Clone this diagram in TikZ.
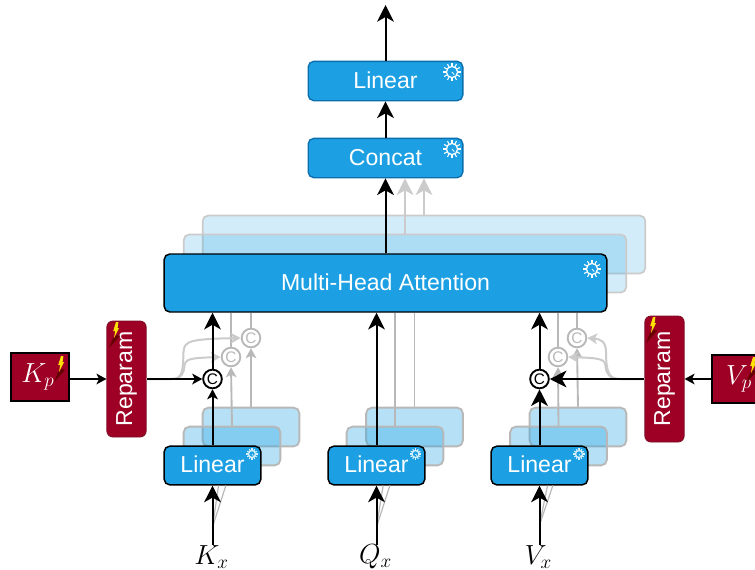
\documentclass[tikz,border=0pt]{standalone}
\usepackage{fontspec}
\usepackage{graphicx}
\setmainfont{Liberation Sans}
\usetikzlibrary{arrows.meta,calc}
\definecolor{bl}{HTML}{1CA0E3}
\definecolor{bledge}{HTML}{0B6FAE}
\definecolor{rd}{HTML}{9D0024}
\definecolor{rdedge}{HTML}{7A1028}
\definecolor{gA}{HTML}{CBCBCB}
\definecolor{gB}{HTML}{B8B8B8}
\definecolor{frostc}{HTML}{D8F0FC}
\tikzset{
  bx/.style={rounded corners=4.2pt,fill=bl,text=white,inner sep=0pt,text height=12.5pt,text depth=1.5pt,font=\fontsize{17.3}{20}\selectfont},
  topbox/.style={bx,draw=bledge,line width=1pt,minimum width=116pt,minimum height=29.5pt},
  lin/.style={bx,draw=black,line width=1.1pt,minimum width=72.5pt,minimum height=29pt},
  mhabox/.style={bx,draw=black,line width=1.1pt,minimum width=332pt,minimum height=43.5pt},
  backbig/.style={rounded corners=4.2pt,draw=gA,line width=1.3pt,fill=bl,fill opacity=.2,minimum width=332pt,minimum height=43.5pt,inner sep=0pt},
  backsm/.style={rounded corners=4.2pt,draw=gB,line width=1.4pt,fill=bl,fill opacity=.32,minimum width=72.5pt,minimum height=29pt,inner sep=0pt},
  repbox/.style={rounded corners=4.5pt,draw=rdedge,line width=.6pt,fill=rd,text=white,inner sep=0pt,minimum width=29.5pt,font=\fontsize{17.3}{20}\selectfont},
  param/.style={draw=black,line width=1.3pt,fill=rd,text=white,inner sep=0pt,minimum width=43.5pt,minimum height=36.5pt,font=\fontsize{20}{24}\selectfont},
  inp/.style={inner sep=0pt,font=\fontsize{20}{24}\selectfont},
  cat/.style={circle,draw=black,line width=1.4pt,fill=white,inner sep=0pt,minimum size=14pt,font=\fontsize{11.5}{12}\selectfont},
  catg/.style={circle,draw=gB,text=gB,line width=1.4pt,fill=white,inner sep=0pt,minimum size=14pt,font=\fontsize{11.5}{12}\selectfont},
  blk/.style={draw=black,line width=1.5pt},
  gry/.style={draw=gB,line width=1.4pt},
  gryt/.style={draw=gA,line width=1.5pt},
  fan/.style={draw=gB,line width=.9pt},
  bigtip/.style={-{Stealth[length=12.5pt,width=12.5pt,inset=3.5pt]}},
  smalltip/.style={-{Stealth[length=7.5pt,width=8pt,inset=2pt]}},
  frost/.pic={
    \draw[line width=.9pt,pic actions] (0,0) circle (5.6);
    \foreach \a in {0,30,...,330}{\draw[line width=.8pt,pic actions] (\a:5.6) -- (\a:9);}
    \draw[line width=.6pt,pic actions] (0,0) -- (50:3.4);
  },
  bolt/.pic={
    \fill[red!40!black] (2,3) -- (5,4) -- (-6,16) -- (-2,6) -- cycle;
    \fill[yellow!85!orange] (1,-10) -- (3.4,-10) -- (2.6,-4) -- (4,-4) -- (-1,6) -- (.2,-1) -- (-1.8,-1) -- cycle;
  },
}
\begin{document}
\begin{tikzpicture}[x=.75pt,y=-.75pt]
\useasboundingbox (0,0) rectangle (755,569);
% back boxes
\node[backbig] (mb2) at (424,244.5) {};
\node[backbig] (mb1) at (405,263.5) {};
\node[backsm] (kb2) at (251,427) {};
\node[backsm] (kb1) at (232,446) {};
\node[backsm] (qb2) at (414.5,427) {};
\node[backsm] (qb1) at (395,446) {};
\node[backsm] (vb2) at (578,427) {};
\node[backsm] (vb1) at (558.5,446) {};
% main boxes
\node[topbox] (lintop) at (385.5,81) {Linear};
\node[topbox] (concat) at (385.5,158) {Concat};
\node[mhabox] (mha) at (385.5,283) {Multi-Head Attention};
\coordinate (out) at (385.5,5);
% gray upper connectors
\draw[gryt,bigtip] (mb1.north) -- (mb1.north |- concat.south);
\draw[gryt,bigtip] (mb2.north) -- (mb2.north |- concat.south);
% gray catenations
\node[catg] (ck1) at (231,357) {C};
\node[catg] (ck2) at (251,338) {C};
\node[catg] (cv1) at (558,357) {C};
\node[catg] (cv2) at (577,338) {C};
% reparam & params
\node[repbox,minimum height=87pt] (rk) at (126.5,379) {\rotatebox{90}{Reparam}};
\node[repbox,minimum height=94.5pt] (rv) at (664.5,379) {\rotatebox{90}{Reparam}};
\node[param] (kp) at (40,377) {\hspace{-3pt}$K_p$};
\node[param] (vp) at (741,379) {\hspace{-3pt}$V_p$};
% gray connectors lower
\draw[gry,smalltip] (kb1.north) -- (ck1.south);
\draw[gry,smalltip] (kb2.north) -- (ck2.south);
\draw[gry,smalltip] (vb1.north) -- (cv1.south);
\draw[gry,smalltip] (vb2.north) -- (cv2.south);
\draw[gry] (ck1.north) -- (ck1.north |- mha.south);
\draw[gry] (ck2.north) -- (ck2.north |- mha.south);
\draw[gry] (cv1.north) -- (cv1.north |- mha.south);
\draw[gry] (cv2.north) -- (cv2.north |- mha.south);
\draw[gry] (qb1.north) -- (qb1.north |- mha.south);
\draw[gry] (qb2.north) -- (qb2.north |- mha.south);
\draw[gryt,smalltip] (rk.east) -- (172,379) .. controls (182,379) and (184,372) .. (184.5,366) .. controls (185,359) and (190,358) .. (ck1.west);
\draw[gryt,smalltip] (rk.east) -- (172,379) .. controls (182,379) and (183,372) .. (183.5,352) .. controls (184,341) and (190,339) .. (ck2.west);
\draw[gryt,smalltip] (rv.west) -- (620,379) .. controls (610,379) and (606,374) .. (605.5,366) .. controls (605,359) and (600,358) .. (cv1.east);
\draw[gryt,smalltip] (rv.west) -- (620,379) .. controls (610,379) and (606,374) .. (606,352) .. controls (606,341) and (600,339) .. (cv2.east);
% front linears
\node[lin] (link) at (212.5,465.5) {Linear};
\node[lin] (linq) at (376.5,465.5) {Linear};
\node[lin] (linv) at (539.5,465.5) {Linear};
\node[cat] (ck) at (212.5,379) {C};
\node[cat] (cv) at (539.5,379) {C};
% inputs
\node[inp] (kx) at (211.5,557) {$K_x$};
\node[inp] (qx) at (375.5,557) {$Q_x$};
\node[inp] (vx) at (538.5,557) {$V_x$};
\coordinate (fk) at (212.5,527);
\coordinate (fq) at (376.5,527);
\coordinate (fv) at (539.5,525);
\draw[fan] (fk) -- ([xshift=4.5pt]link.south);
\draw[fan] (fk) -- ([xshift=10pt]link.south);
\draw[fan] (fq) -- ([xshift=5pt]linq.south);
\draw[fan] (fq) -- ([xshift=10pt]linq.south);
\draw[fan] (fv) -- ([xshift=6pt]linv.south);
\draw[fan] (fv) -- ([xshift=10pt]linv.south);
% black connectors
\draw[blk,bigtip] (link.south |- kx.north) -- (link.south);
\draw[blk,bigtip] (linq.south |- qx.north) -- (linq.south);
\draw[blk,bigtip] (linv.south |- vx.north) -- (linv.south);
\draw[blk,smalltip] (link.north) -- (ck.south);
\draw[blk,bigtip] (linv.north) -- (cv.south);
\draw[blk,bigtip] (ck.north) -- (ck.north |- mha.south);
\draw[blk,bigtip] (cv.north) -- (cv.north |- mha.south);
\draw[blk,bigtip] (linq.north) -- (linq.north |- mha.south);
\draw[blk,bigtip] (mha.north) -- (concat.south);
\draw[blk,bigtip] (concat.north) -- (lintop.south);
\draw[blk,bigtip] (lintop.north) -- (out);
\draw[blk,smalltip] (kp.east |- rk.east) -- (rk.west);
\draw[blk,smalltip] (rk.east) -- (ck.west);
\draw[blk,smalltip] (vp.west) -- (rv.east);
\draw[blk,bigtip] (rv.west) -- (cv.east);
% icons
\pic[draw=white] at (452,72) {frost};
\pic[draw=white] at (452,149) {frost};
\pic[draw=white] at (592,269) {frost};
\pic[draw=frostc,scale=.62] at (252,454) {frost};
\pic[draw=frostc,scale=.62] at (415.5,454) {frost};
\pic[draw=frostc,scale=.62] at (579,454) {frost};
\pic at (115,332) {bolt};
\pic at (652,327) {bolt};
\pic at (60,366) {bolt};
\pic at (752,367) {bolt};
\end{tikzpicture}
\end{document}
